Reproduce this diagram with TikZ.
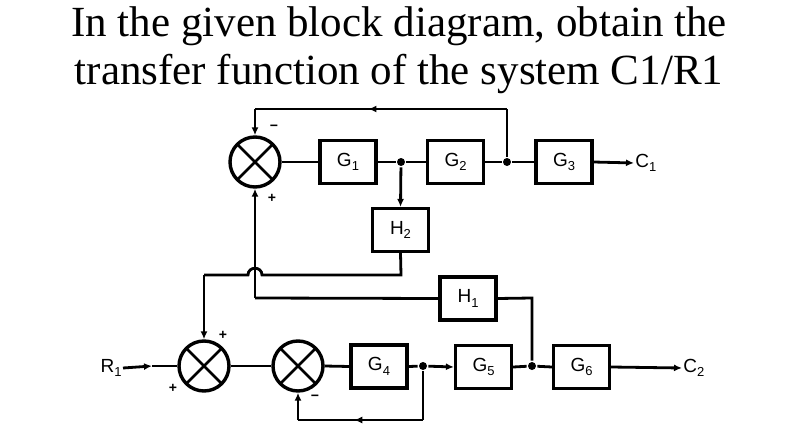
\documentclass[tikz,border=0pt]{standalone}
\usepackage{fontspec}
\setmainfont{Liberation Serif}
\newfontfamily\labelfont{Liberation Sans}
\usetikzlibrary{decorations.markings,arrows.meta}
\newcommand\blk[2]{{\labelfont\fontsize{19}{19}\selectfont #1\raisebox{-0.45ex}{\fontsize{13}{13}\selectfont #2}}}
\begin{document}
\begin{tikzpicture}[x=1pt,y=-1pt,
  line width=2.8pt,
  tip/.style={-{Latex[length=8pt,width=7pt]}},
  blkbox/.style={draw,line width=3.2pt,minimum width=56pt,minimum height=43pt,inner sep=0pt},
  sumj/.style={draw,circle,line width=3.4pt,minimum size=50pt,inner sep=0pt,
    path picture={\draw[line width=2.8pt] (path picture bounding box.north west) -- (path picture bounding box.south east)
      (path picture bounding box.north east) -- (path picture bounding box.south west);}},
  dotj/.style={circle,fill,inner sep=0pt,minimum size=8pt},
  sgn/.style={font=\labelfont\bfseries\fontsize{14}{14}\selectfont,inner sep=0pt},
  midarrow/.style={postaction={decorate},decoration={markings,mark=at position #1 with {\arrow{Latex[length=8pt,width=7pt]}}}},
]
\useasboundingbox (0,0) rectangle (798,444);
% title
\node[font=\fontsize{43}{48}\selectfont,align=center,anchor=north,inner sep=0pt] (title) at (399,5)
  {In the given block diagram, obtain the\\transfer function of the system C1/R1};

% top row
\node[sumj] (s1) at (255,162) {};
\node[blkbox] (g1) at (348,162) {\blk{G}{1}};
\node[dotj] (j1) at (401,162) {};
\node[blkbox] (g2) at (455.5,162) {\blk{G}{2}};
\node[dotj] (j2) at (507,162) {};
\node[blkbox] (g3) at (564,162) {\blk{G}{3}};
\node[inner sep=0pt,anchor=west] (c1) at (634,163) {\blk{C}{1}};
\node[blkbox] (h2) at (400.5,230) {\blk{H}{2}};

% middle
\node[blkbox] (h1) at (468,298.5) {\blk{H}{1}};

% bottom row
\node[inner sep=0pt,anchor=east] (r1) at (123,368) {\blk{R}{1}};
\node[sumj] (s2) at (204,366) {};
\node[sumj] (s3) at (298,366) {};
\node[blkbox] (g4) at (379,366.5) {\blk{G}{4}};
\node[dotj] (j3) at (423,366) {};
\node[blkbox] (g5) at (483.5,367) {\blk{G}{5}};
\node[dotj] (j4) at (532,366) {};
\node[blkbox] (g6) at (581.5,367) {\blk{G}{6}};
\node[inner sep=0pt,anchor=west] (c2) at (682,368) {\blk{C}{2}};

\coordinate (t1) at (507,109);
\coordinate (t2) at (255,109);
\coordinate (a1) at (401,275);
\coordinate (a2) at (262,275);
\coordinate (a3) at (248,275);
\coordinate (a4) at (204,275);
\coordinate (b1) at (532,298);
\coordinate (b2) at (255,298);
\coordinate (f1) at (423,420);
\coordinate (f2) at (298,420);
\coordinate (rm) at (152,366);

% connectors top
\draw (s1.east) -- (g1.west);
\draw (g1.east) -- (j1) -- (g2.west);
\draw (g2.east) -- (j2) -- (g3.west);
\draw[tip] (g3.east) -- (c1.west);
\draw[tip] (j1) -- (h2.north);
\draw (j2) -- (t1);
\draw[midarrow=0.55] (t1) -- (t2);
\draw[tip] (t2) -- (s1.north);
\draw (h2.south) -- (a1) -- (a2) .. controls (262,266) and (248,266) .. (a3) -- (a4);
\draw[tip] (a4) -- (s2.north);
\draw (j4) -- (b1) -- (h1.east);
\draw (h1.west) -- (b2);
\draw[tip] (b2) -- (s1.south);

% connectors bottom
\draw[tip] (r1.east) -- (rm);
\draw (rm) -- (s2.west);
\draw (s2.east) -- (s3.west);
\draw (s3.east) -- (g4.west);
\draw (g4.east) -- (j3);
\draw[tip] (j3) -- (g5.west);
\draw (g5.east) -- (j4) -- (g6.west);
\draw[tip] (g6.east) -- (c2.west);
\draw (j3) -- (f1);
\draw[midarrow=0.55] (f1) -- (f2);
\draw[tip] (f2) -- (s3.south);

% signs
\node[sgn] (m1) at (274,128) {−};
\node[sgn] (p1) at (272,198) {+};
\node[sgn] (p2) at (223,335) {+};
\node[sgn] (p3) at (173,388) {+};
\node[sgn] (m2) at (315,398) {−};
\end{tikzpicture}
\end{document}
